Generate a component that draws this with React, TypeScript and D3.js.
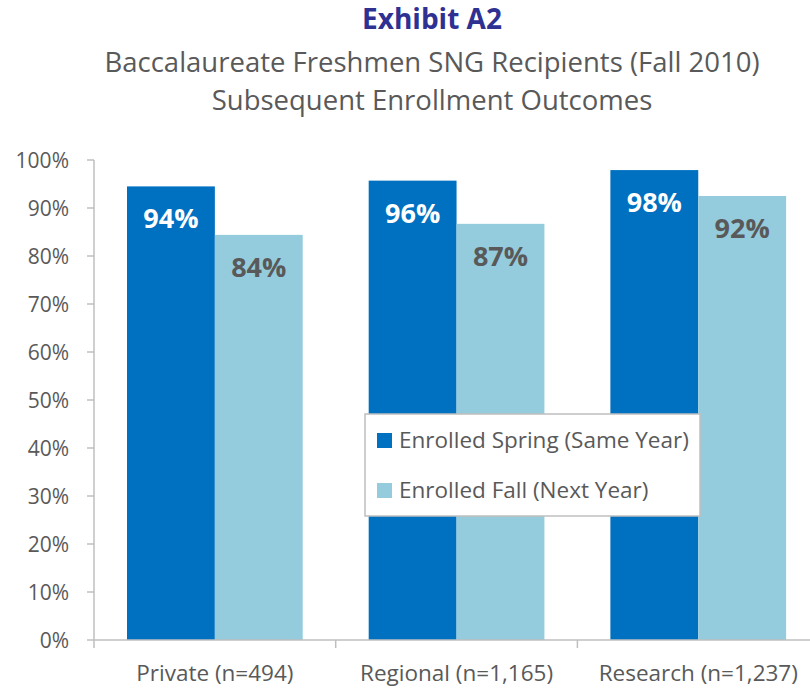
import React from "react";
import * as d3 from "d3";

const categories = ["Private (n=494)", "Regional (n=1,165)", "Research (n=1,237)"];
const seriesNames = ["Enrolled Spring (Same Year)", "Enrolled Fall (Next Year)"];
const springValues = [94.5, 95.7, 97.9];
const fallValues = [84.4, 86.7, 92.5];
const springLabels = ["94%", "96%", "98%"];
const fallLabels = ["84%", "87%", "92%"];
const yTicks = [0, 10, 20, 30, 40, 50, 60, 70, 80, 90, 100];

const W = 810;
const H = 689;
const FONT = "'Open Sans', 'Noto Sans', sans-serif";
const GRAY = "#595959";
const AXIS = "#bfbfbf";
const C_SPRING = "#0070C0";
const C_FALL = "#95CCDD";

export default function App() {
  const left = 94;
  const catW = 241.7;
  const x = d3.scaleBand<string>().domain(categories).range([left, left + catW * 3]).paddingInner(0.273).paddingOuter(0.1365);
  const y = d3.scaleLinear().domain([0, 100]).range([640, 160]);
  const bw = x.bandwidth() / 2;
  const series = [
    { name: seriesNames[0], values: springValues, labels: springLabels, color: C_SPRING, text: "#ffffff" },
    { name: seriesNames[1], values: fallValues, labels: fallLabels, color: C_FALL, text: GRAY },
  ];
  return (
    <svg width={W} height={H} style={{ position: "absolute", left: 0, top: 0, background: "#fff" }} fontFamily={FONT}>
      <text x={432} y={29} textAnchor="middle" fontSize={28} fontWeight="bold" fill="#2E3192">Exhibit A2</text>
      <text x={432} y={72} textAnchor="middle" fontSize={27.5} fill={GRAY}>Baccalaureate Freshmen SNG Recipients (Fall 2010)</text>
      <text x={432} y={110} textAnchor="middle" fontSize={27.5} fill={GRAY}>Subsequent Enrollment Outcomes</text>

      {series.map((s, si) =>
        categories.map((c, i) => {
          const bx = (x(c) as number) + si * bw;
          const top = y(s.values[i]);
          return (
            <g key={si + "-" + i}>
              <rect x={bx} y={top} width={bw} height={y(0) - top} fill={s.color} />
              <text x={bx + bw / 2} y={top + 42} textAnchor="middle" fontSize={27} fontWeight="bold" fill={s.text}>{s.labels[i]}</text>
            </g>
          );
        })
      )}

      <line x1={left} x2={left} y1={y(100)} y2={y(0)} stroke={AXIS} strokeWidth={1.5} />
      <line x1={left} x2={W} y1={y(0)} y2={y(0)} stroke={AXIS} strokeWidth={1.5} />
      {yTicks.map((t) => (
        <g key={t}>
          <line x1={left - 7} x2={left} y1={y(t)} y2={y(t)} stroke={AXIS} strokeWidth={1.5} />
          <text x={69} y={y(t) + 8} textAnchor="end" fontSize={21} fill={GRAY}>{t + "%"}</text>
        </g>
      ))}
      {[0, 1, 2, 3].map((k) => (
        <line key={k} x1={left + catW * k} x2={left + catW * k} y1={y(0)} y2={y(0) + 8} stroke={AXIS} strokeWidth={1.5} />
      ))}
      {categories.map((c) => (
        <text key={c} x={(x(c) as number) + x.bandwidth() / 2} y={681} textAnchor="middle" fontSize={22.5} fill={GRAY}>{c}</text>
      ))}

      <rect x={365} y={414} width={335} height={102} fill="#fff" stroke={AXIS} strokeWidth={1.5} />
      {series.map((s, si) => (
        <g key={s.name}>
          <rect x={377} y={433 + si * 50} width={15} height={15} fill={s.color} />
          <text x={399} y={448 + si * 50} fontSize={22.5} fill={GRAY}>{s.name}</text>
        </g>
      ))}
    </svg>
  );
}
